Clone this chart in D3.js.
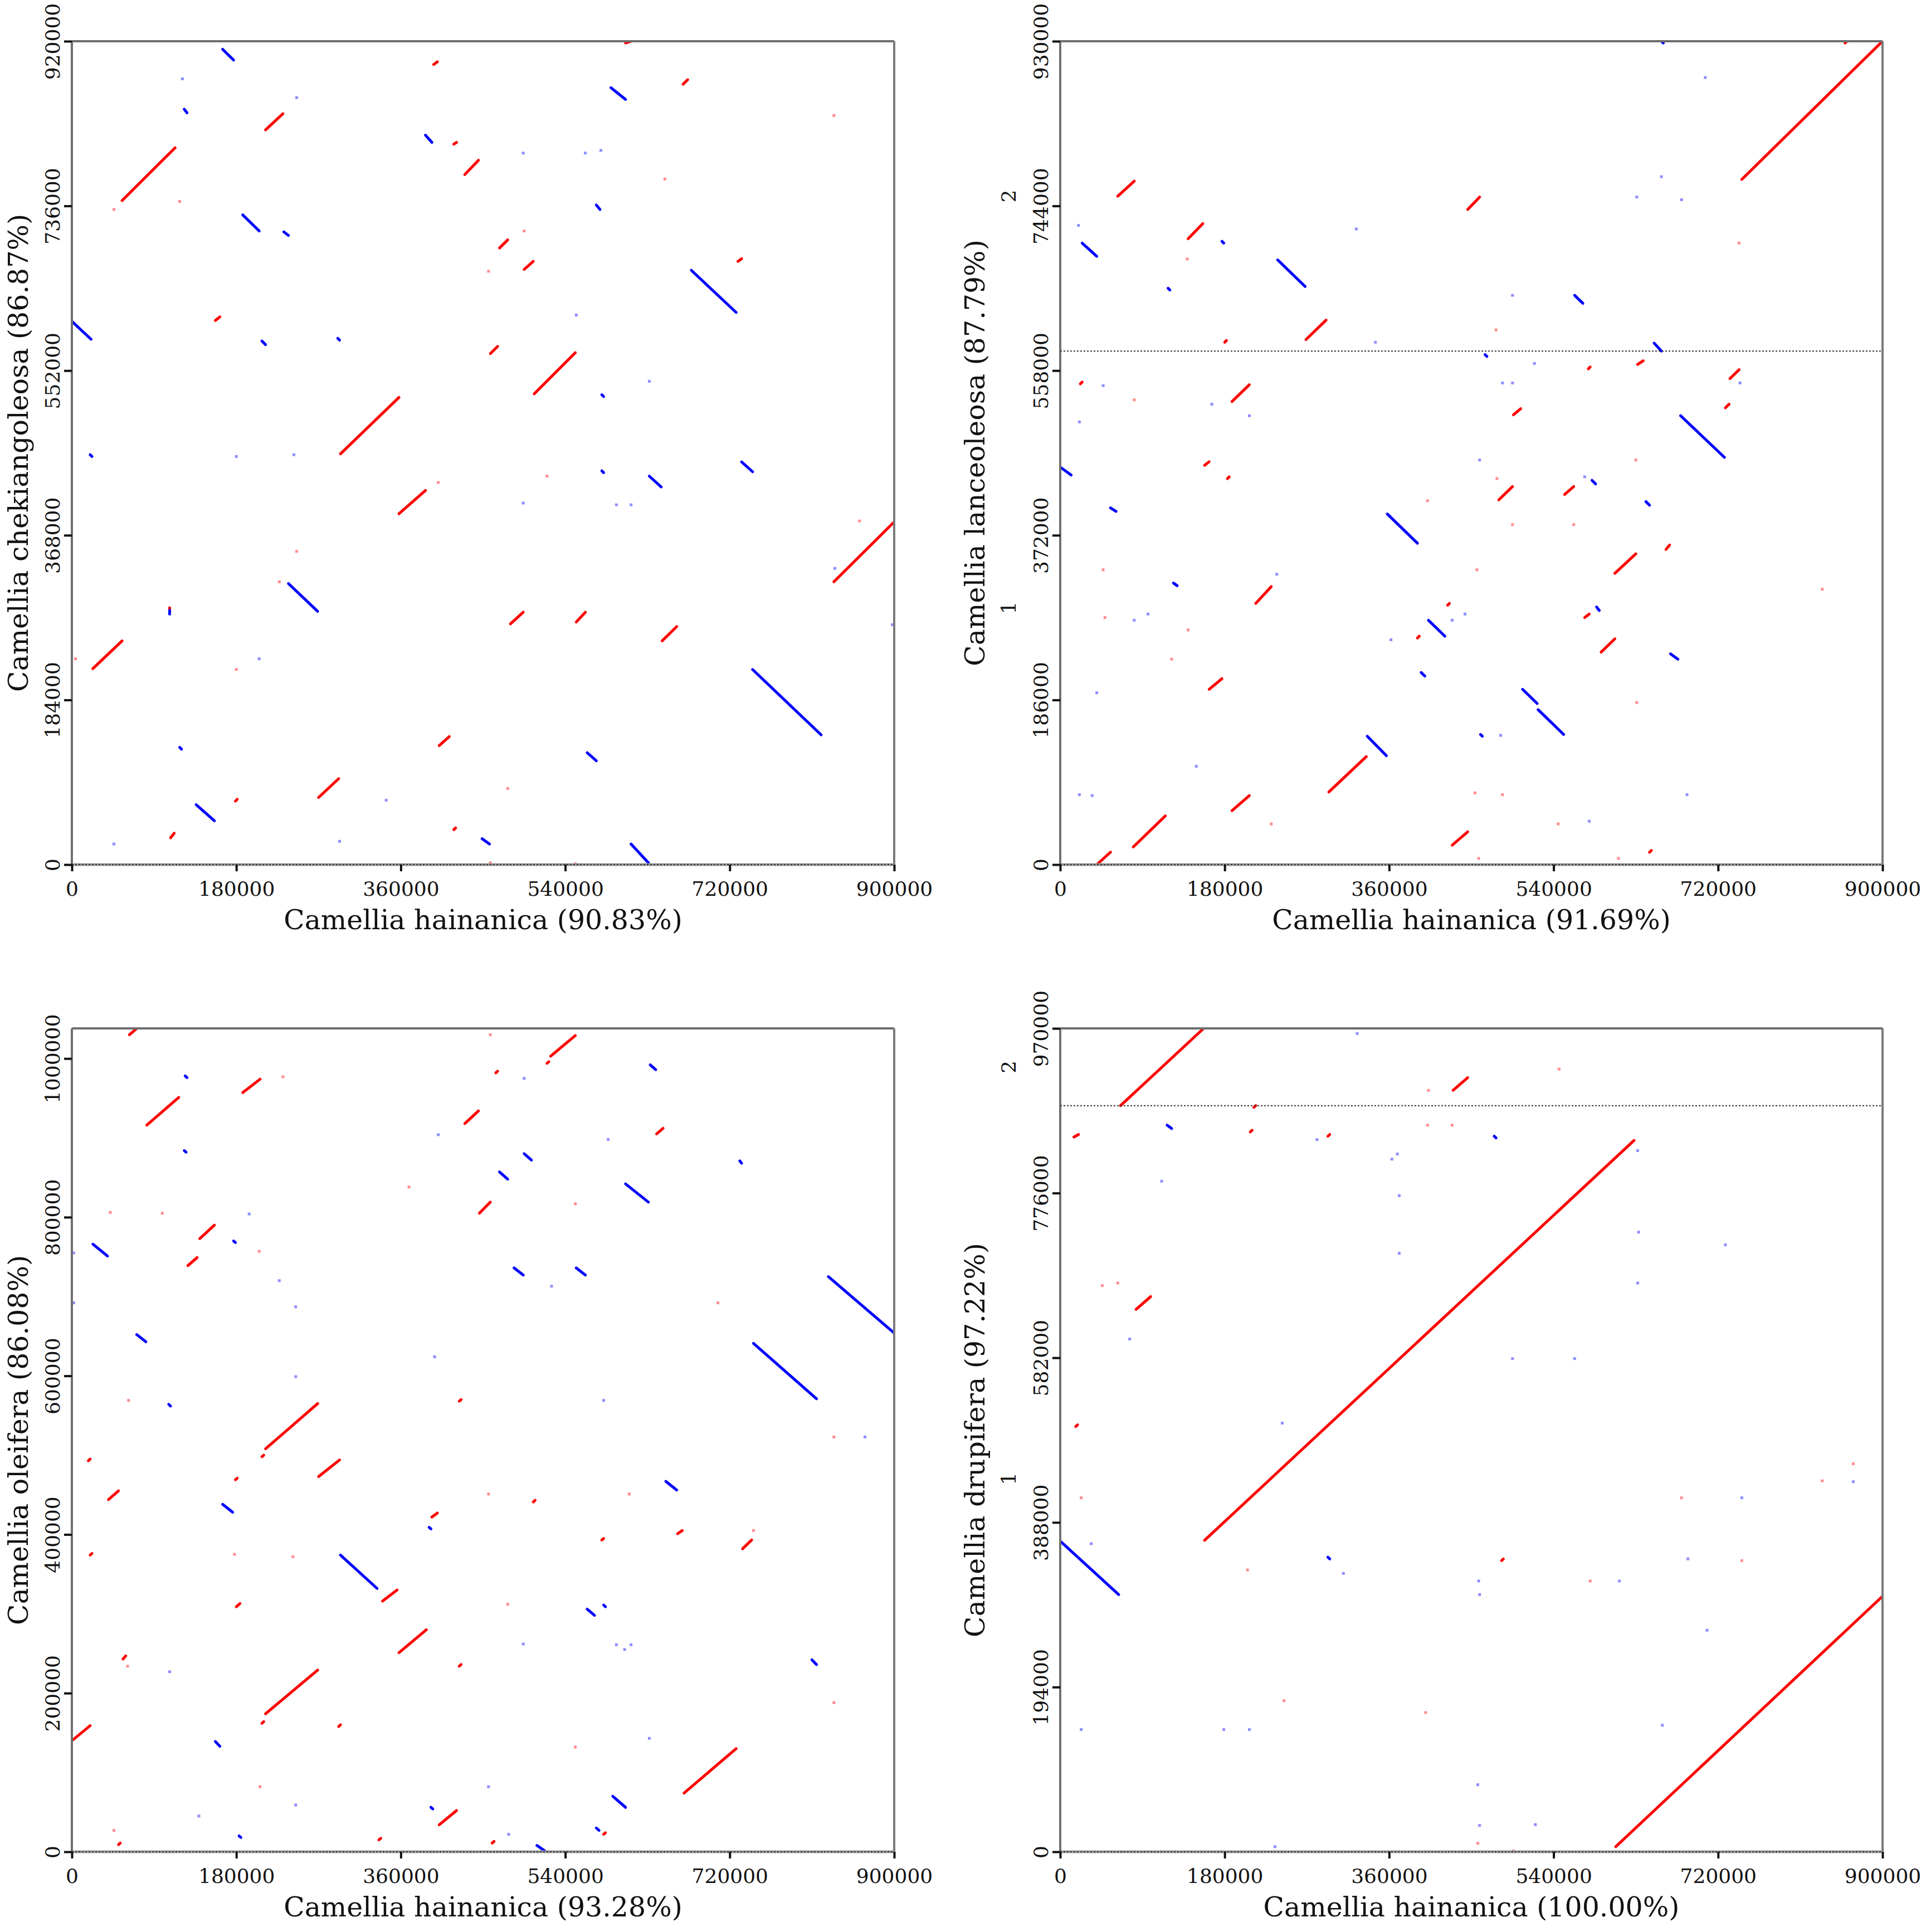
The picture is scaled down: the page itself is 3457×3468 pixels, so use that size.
<!DOCTYPE html>
<html>
  <head>
    <meta charset="utf-8" />
    <title>Camellia dot plots</title>
    <script src="https://cdn.jsdelivr.net/npm/d3@7"></script>
    <style>
      body { margin: 0; background: #fff; }
      text { font-family: "DejaVu Serif", serif; fill: #111; }
    </style>
  </head>
  <body>
    <svg id="svg" width="3457" height="3468" xmlns="http://www.w3.org/2000/svg"></svg>
    <script>
      // Shared x axis (Camellia hainanica)
      const xMax = 900000;
      const xTicks = [0, 180000, 360000, 540000, 720000, 900000];

      // ---------- Panel 1: C. chekiangoleosa ----------
      const p1YMax = 920000;
      const p1YTicks = [0, 184000, 368000, 552000, 736000, 920000];
      const p1Forward = [
        [55000,742000,113000,801000],[212000,821000,231000,839000],[396000,894000,400000,897000],
        [606000,918000,612000,920000],[669000,872000,674000,877000],[418000,805000,421000,807000],
        [430000,771000,445000,787000],[468000,689000,477000,698000],[495000,665000,505000,674000],
        [729000,674000,733000,677000],[157000,608000,162000,612000],[458000,571000,466000,579000],
        [506000,526000,551000,572000],[294000,459000,358000,522000],[358000,392000,387000,418000],
        [834000,316000,900000,383000],[23000,219000,55000,250000],[480000,269000,494000,282000],
        [552000,271000,562000,282000],[646000,250000,662000,266000],[402000,133000,413000,143000],
        [270000,75000,292000,96000],[108000,30000,112000,35000],[179000,71000,181000,73000],
        [418000,39000,420000,41000],[107000,284000,107000,287000]
      ];
      const p1Reverse = [
        [165000,911000,177000,899000],[123000,844000,126000,840000],[590000,868000,606000,855000],
        [387000,815000,394000,807000],[187000,726000,205000,708000],[232000,707000,237000,703000],
        [574000,737000,578000,732000],[678000,664000,727000,617000],[0,607000,21000,587000],
        [208000,585000,212000,581000],[733000,450000,745000,439000],[632000,434000,645000,422000],
        [237000,314000,269000,283000],[745000,218000,820000,145000],[564000,125000,574000,116000],
        [136000,67000,156000,49000],[118000,131000,120000,129000],[449000,29000,457000,23000],
        [612000,23000,631000,2000],[580000,525000,582000,523000],[580000,440000,582000,438000],
        [20000,458000,22000,456000],[291000,588000,293000,586000],[107000,280000,107000,284000]
      ];
      const p1FaintFwd = [
        [46000,732000],[118000,741000],[649000,766000],[834000,837000],[495000,708000],[456000,663000],
        [401000,427000],[520000,434000],[246000,350000],[227000,316000],[180000,218000],[4000,230000],
        [862000,384000],[477000,85000],[458000,2000],[551000,1000]
      ];
      const p1FaintRev = [
        [121000,878000],[246000,857000],[494000,795000],[562000,795000],[579000,798000],[552000,614000],
        [632000,540000],[180000,456000],[243000,458000],[494000,404000],[596000,402000],[612000,402000],
        [205000,230000],[344000,72000],[46000,23000],[293000,26000],[898000,268000],[835000,331000]
      ];

      // ---------- Panel 2: C. lanceoleosa ----------
      const p2YMax = 930000;
      const p2YTicks = [0, 186000, 372000, 558000, 744000, 930000];
      const p2ChrBreaks = [0, 580000];
      const p2ChrLabels = [["1", 290000], ["2", 755000]];
      const p2Forward = [
        [746000,774000,900000,930000],[63000,755000,81000,772000],[140000,707000,156000,724000],
        [446000,740000,459000,754000],[269000,593000,291000,615000],[180000,590000,182000,592000],
        [188000,523000,207000,542000],[22000,543000,24000,545000],[496000,508000,504000,515000],
        [578000,560000,580000,562000],[632000,565000,638000,569000],[733000,549000,743000,559000],
        [728000,516000,732000,520000],[158000,451000,163000,455000],[183000,436000,185000,438000],
        [480000,412000,495000,427000],[552000,418000,562000,427000],[607000,329000,630000,351000],
        [663000,356000,667000,361000],[214000,295000,231000,314000],[424000,293000,426000,295000],
        [574000,279000,579000,283000],[592000,240000,607000,255000],[163000,198000,177000,210000],
        [294000,82000,335000,122000],[188000,61000,207000,78000],[80000,20000,115000,55000],
        [40000,0,55000,14000],[429000,22000,446000,37000],[645000,14000,647000,16000],
        [391000,256000,393000,258000],[859000,928000,861000,930000]
      ];
      const p2Reverse = [
        [24000,702000,40000,687000],[177000,704000,179000,702000],[238000,683000,268000,653000],
        [118000,651000,120000,649000],[563000,643000,572000,634000],[650000,589000,658000,580000],
        [465000,576000,467000,574000],[0,449000,12000,440000],[55000,403000,61000,399000],
        [679000,507000,727000,460000],[582000,434000,586000,430000],[641000,410000,645000,406000],
        [358000,396000,391000,363000],[124000,318000,128000,315000],[403000,276000,421000,258000],
        [587000,291000,590000,287000],[668000,238000,676000,232000],[395000,217000,399000,213000],
        [506000,198000,522000,182000],[523000,175000,551000,147000],[336000,145000,357000,123000],
        [460000,147000,462000,145000],[658000,930000,660000,928000]
      ];
      const p2FaintFwd = [
        [477000,604000],[630000,457000],[478000,436000],[402000,411000],[495000,384000],[562000,384000],
        [456000,333000],[47000,333000],[49000,279000],[140000,265000],[122000,232000],[139000,684000],
        [81000,525000],[743000,702000],[631000,183000],[454000,81000],[484000,79000],[231000,46000],
        [545000,46000],[458000,7000],[611000,7000],[834000,311000]
      ];
      const p2FaintRev = [
        [706000,889000],[658000,777000],[631000,754000],[680000,751000],[20000,722000],[324000,718000],
        [495000,643000],[345000,590000],[519000,566000],[484000,544000],[495000,544000],[47000,541000],
        [166000,520000],[207000,507000],[21000,500000],[744000,544000],[459000,457000],[574000,438000],
        [429000,276000],[443000,283000],[237000,328000],[81000,276000],[96000,283000],[362000,254000],
        [40000,194000],[149000,111000],[21000,79000],[35000,78000],[482000,146000],[686000,79000],
        [579000,49000]
      ];

      // ---------- Panel 3: C. oleifera ----------
      const p3YMax = 1038000;
      const p3YTicks = [0, 200000, 400000, 600000, 800000, 1000000];
      const p3Forward = [
        [63000,1030000,71000,1038000],[82000,916000,117000,951000],[187000,957000,206000,974000],
        [524000,1003000,551000,1029000],[520000,994000,522000,996000],[464000,982000,466000,984000],
        [430000,918000,445000,934000],[640000,905000,647000,912000],[446000,805000,458000,819000],
        [140000,773000,156000,790000],[127000,739000,137000,749000],[212000,508000,269000,565000],
        [208000,498000,210000,500000],[270000,473000,293000,494000],[40000,444000,51000,455000],
        [18000,493000,20000,495000],[179000,469000,181000,471000],[424000,568000,426000,570000],
        [394000,422000,400000,427000],[505000,441000,507000,443000],[20000,374000,22000,376000],
        [580000,393000,582000,395000],[663000,401000,668000,405000],[734000,382000,744000,393000],
        [340000,316000,356000,330000],[180000,309000,184000,313000],[358000,251000,388000,280000],
        [56000,243000,59000,247000],[424000,234000,426000,236000],[212000,174000,269000,229000],
        [208000,162000,210000,164000],[0,140000,20000,159000],[292000,158000,294000,160000],
        [670000,74000,727000,130000],[402000,34000,421000,52000],[51000,9000,53000,11000],
        [336000,15000,338000,17000],[460000,11000,462000,13000],[582000,22000,584000,24000]
      ];
      const p3Reverse = [
        [633000,992000,639000,986000],[124000,978000,126000,976000],[123000,884000,125000,882000],
        [495000,880000,503000,872000],[468000,857000,477000,848000],[606000,842000,631000,819000],
        [731000,871000,733000,868000],[23000,766000,39000,751000],[177000,770000,179000,768000],
        [484000,736000,494000,727000],[552000,736000,562000,727000],[828000,725000,900000,654000],
        [71000,652000,81000,643000],[746000,641000,815000,571000],[106000,564000,108000,562000],
        [165000,438000,176000,428000],[391000,409000,393000,407000],[294000,374000,334000,332000],
        [564000,306000,572000,298000],[582000,311000,584000,309000],[650000,467000,662000,456000],
        [810000,242000,815000,236000],[157000,139000,162000,133000],[592000,70000,606000,56000],
        [574000,30000,577000,27000],[509000,8000,519000,0],[183000,20000,185000,18000],
        [393000,56000,395000,54000]
      ];
      const p3FaintFwd = [
        [458000,1030000],[231000,977000],[369000,838000],[551000,817000],[42000,806000],[99000,805000],
        [205000,757000],[62000,569000],[707000,692000],[456000,451000],[610000,451000],[746000,405000],
        [178000,375000],[242000,372000],[477000,312000],[61000,234000],[834000,523000],[834000,188000],
        [551000,132000],[206000,82000],[46000,27000]
      ];
      const p3FaintRev = [
        [495000,975000],[401000,904000],[587000,898000],[194000,804000],[2000,755000],[227000,720000],
        [525000,713000],[2000,692000],[245000,687000],[245000,599000],[397000,624000],[582000,569000],
        [868000,523000],[494000,262000],[596000,261000],[605000,255000],[612000,261000],[107000,227000],
        [632000,143000],[456000,82000],[245000,59000],[139000,45000],[478000,22000]
      ];

      // ---------- Panel 4: C. drupifera ----------
      const p4YMax = 970000;
      const p4YTicks = [0, 194000, 388000, 582000, 776000, 970000];
      const p4ChrBreaks = [0, 879000];
      const p4ChrLabels = [["1", 439500], ["2", 924500]];
      const p4Forward = [
        [66000,879000,157000,970000],[430000,897000,446000,912000],[158000,367000,628000,838000],
        [608000,6000,900000,301000],[83000,639000,99000,654000],[15000,842000,20000,845000],
        [208000,848000,210000,850000],[212000,877000,214000,879000],[293000,843000,295000,845000],
        [17000,501000,19000,503000],[483000,343000,485000,345000]
      ];
      const p4Reverse = [
        [0,366000,64000,303000],[117000,856000,122000,852000],[475000,843000,477000,841000],
        [293000,347000,295000,345000]
      ];
      const p4FaintFwd = [
        [403000,897000],[402000,856000],[429000,856000],[546000,922000],[46000,667000],[63000,670000],
        [23000,417000],[205000,332000],[245000,178000],[400000,164000],[580000,319000],[680000,417000],
        [746000,343000],[834000,437000],[868000,457000],[457000,10000],[496000,1000]
      ];
      const p4FaintRev = [
        [325000,964000],[281000,839000],[363000,816000],[369000,822000],[371000,773000],[371000,705000],
        [111000,790000],[632000,826000],[633000,730000],[632000,670000],[728000,715000],[76000,604000],
        [243000,505000],[495000,581000],[563000,581000],[34000,363000],[310000,328000],[458000,319000],
        [459000,303000],[612000,319000],[687000,345000],[746000,417000],[868000,436000],[708000,261000],
        [23000,144000],[179000,144000],[207000,144000],[659000,149000],[457000,79000],[459000,31000],
        [520000,32000],[235000,6000]
      ];

      const panels = [
        { id: 1, left: 129, top: 74, yMax: p1YMax, yTicks: p1YTicks, chr: [0], chrLabels: [],
          fwd: p1Forward, rev: p1Reverse, faintFwd: p1FaintFwd, faintRev: p1FaintRev,
          xTitle: "Camellia hainanica (90.83%)", yTitle: "Camellia chekiangoleosa (86.87%)", titleOff: 79 },
        { id: 2, left: 1903, top: 74, yMax: p2YMax, yTicks: p2YTicks, chr: p2ChrBreaks, chrLabels: p2ChrLabels,
          fwd: p2Forward, rev: p2Reverse, faintFwd: p2FaintFwd, faintRev: p2FaintRev,
          xTitle: "Camellia hainanica (91.69%)", yTitle: "Camellia lanceoleosa (87.79%)", titleOff: 136 },
        { id: 3, left: 129, top: 1846, yMax: p3YMax, yTicks: p3YTicks, chr: [0], chrLabels: [],
          fwd: p3Forward, rev: p3Reverse, faintFwd: p3FaintFwd, faintRev: p3FaintRev,
          xTitle: "Camellia hainanica (93.28%)", yTitle: "Camellia oleifera (86.08%)", titleOff: 79 },
        { id: 4, left: 1903, top: 1846, yMax: p4YMax, yTicks: p4YTicks, chr: p4ChrBreaks, chrLabels: p4ChrLabels,
          fwd: p4Forward, rev: p4Reverse, faintFwd: p4FaintFwd, faintRev: p4FaintRev,
          xTitle: "Camellia hainanica (100.00%)", yTitle: "Camellia drupifera (97.22%)", titleOff: 136 }
      ];

      const W = 1476, H = 1478;
      let svg = d3.select("svg");

      panels.forEach(draw);

      function draw(p) {
        let g = svg.append("g").attr("transform", `translate(${p.left},${p.top})`);
        let x = d3.scaleLinear().domain([0, xMax]).range([0, W]);
        let y = d3.scaleLinear().domain([0, p.yMax]).range([H, 0]);

        // clip marks to the plot area
        g.append("clipPath").attr("id", "clip" + p.id)
          .append("rect").attr("width", W).attr("height", H);
        let plot = g.append("g").attr("clip-path", `url(#clip${p.id})`);

        // faint single hits
        plot.selectAll(".ff").data(p.faintFwd).enter().append("rect")
          .attr("x", d => x(d[0]) - 2.5).attr("y", d => y(d[1]) - 2.5)
          .attr("width", 5).attr("height", 5).attr("fill", "#ff8f8f");
        plot.selectAll(".fr").data(p.faintRev).enter().append("rect")
          .attr("x", d => x(d[0]) - 2.5).attr("y", d => y(d[1]) - 2.5)
          .attr("width", 5).attr("height", 5).attr("fill", "#8f8fff");

        // alignment segments
        plot.selectAll(".fwd").data(p.fwd).enter().append("line")
          .attr("x1", d => x(d[0])).attr("y1", d => y(d[1]))
          .attr("x2", d => x(d[2])).attr("y2", d => y(d[3]))
          .attr("stroke", "#ff0000").attr("stroke-width", 5).attr("stroke-linecap", "round");
        plot.selectAll(".rev").data(p.rev).enter().append("line")
          .attr("x1", d => x(d[0])).attr("y1", d => y(d[1]))
          .attr("x2", d => x(d[2])).attr("y2", d => y(d[3]))
          .attr("stroke", "#0000ff").attr("stroke-width", 5).attr("stroke-linecap", "round");

        // frame
        g.append("line").attr("x1", 0).attr("x2", W).attr("y1", 0).attr("y2", 0)
          .attr("stroke", "#6e6e6e").attr("stroke-width", 4);
        g.append("line").attr("x1", W).attr("x2", W).attr("y1", 0).attr("y2", H)
          .attr("stroke", "#7a7a7a").attr("stroke-width", 4);
        g.append("line").attr("x1", 0).attr("x2", W).attr("y1", H).attr("y2", H)
          .attr("stroke", "#9a9a9a").attr("stroke-width", 5);
        g.append("line").attr("x1", 0).attr("x2", 0).attr("y1", 0).attr("y2", H)
          .attr("stroke", "#707070").attr("stroke-width", 4);

        // chromosome boundaries (dotted)
        g.selectAll(".chr").data(p.chr).enter().append("line")
          .attr("x1", 0).attr("x2", W)
          .attr("y1", d => y(d)).attr("y2", d => y(d))
          .attr("stroke", "#333").attr("stroke-width", 2).attr("stroke-dasharray", "3,3");

        // x axis
        let xAxis = g.append("g").attr("transform", `translate(0,${H})`)
          .call(d3.axisBottom(x).tickValues(xTicks).tickFormat(d3.format("d"))
            .tickSize(12).tickPadding(18));
        xAxis.select(".domain").remove();
        xAxis.selectAll("line").attr("stroke", "#111").attr("stroke-width", 4);
        xAxis.selectAll("text").style("font-size", "36px").attr("font-family", null).attr("fill", "#111");

        // y axis with rotated labels
        let yAxis = g.append("g")
          .call(d3.axisLeft(y).tickValues(p.yTicks).tickFormat(d3.format("d")).tickSize(14));
        yAxis.select(".domain").remove();
        yAxis.selectAll("line").attr("stroke", "#111").attr("stroke-width", 4);
        yAxis.selectAll("text")
          .attr("transform", "rotate(-90)")
          .attr("x", 0).attr("y", -22).attr("dy", null)
          .attr("text-anchor", "middle")
          .style("font-size", "36px").attr("font-family", null).attr("fill", "#111");

        // chromosome labels
        g.selectAll(".chrlab").data(p.chrLabels).enter().append("text")
          .attr("transform", d => `translate(-80,${y(d[1])}) rotate(-90)`)
          .attr("text-anchor", "middle")
          .style("font-size", "36px")
          .text(d => d[0]);

        // titles
        g.append("text").attr("x", W / 2).attr("y", H + 116)
          .attr("text-anchor", "middle").style("font-size", "49px")
          .text(p.xTitle);
        g.append("text")
          .attr("transform", `translate(${-p.titleOff},${H / 2}) rotate(-90)`)
          .attr("text-anchor", "middle").style("font-size", "49px")
          .text(p.yTitle);
      }
    </script>
  </body>
</html>
